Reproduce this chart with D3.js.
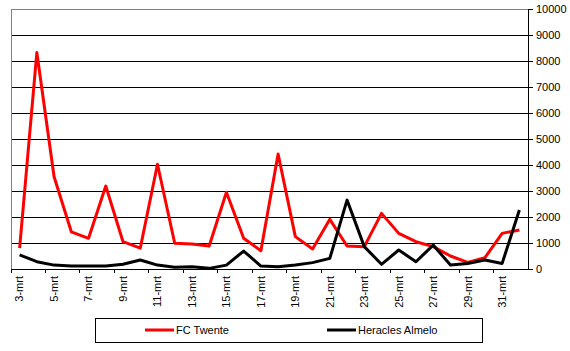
<!DOCTYPE html>
<html>
<head>
<meta charset="utf-8">
<script src="https://cdn.jsdelivr.net/npm/d3@7"></script>
<style>
  body { margin: 0; background: #fff; }
  text { font-family: "Liberation Sans", Arial, sans-serif; font-size: 11px; fill: #000; }
</style>
</head>
<body>
<svg width="570" height="351"></svg>
<script>
const days = ["3-mrt", "4-mrt", "5-mrt", "6-mrt", "7-mrt", "8-mrt", "9-mrt", "10-mrt", "11-mrt", "12-mrt",
    "13-mrt", "14-mrt", "15-mrt", "16-mrt", "17-mrt", "18-mrt", "19-mrt", "20-mrt", "21-mrt", "22-mrt",
    "23-mrt", "24-mrt", "25-mrt", "26-mrt", "27-mrt", "28-mrt", "29-mrt", "30-mrt", "31-mrt", "1-apr"];
const twente = [800, 8330, 3550, 1430, 1180, 3190, 1050, 800, 4030, 990,
    960, 885, 2950, 1180, 705, 4420, 1245, 770, 1910, 885,
    860, 2140, 1370, 1050, 860, 500, 255, 435, 1370, 1500];
const heracles = [540, 280, 150, 115, 115, 115, 180, 345, 150, 65,
    90, 25, 150, 690, 115, 90, 150, 245, 410, 2650,
    860, 180, 730, 280, 920, 150, 215, 345, 215, 2270];
const yTicks = d3.range(0, 10001, 1000);
const series = [
    { name: "FC Twente", values: twente, color: "#ff0000" },
    { name: "Heracles Almelo", values: heracles, color: "#000000" }
];

const svg = d3.select("svg");
const plotLeft = 11, plotRight = 528, plotTop = 9, plotBottom = 269;

const x = d3.scaleBand().domain(days).range([plotLeft, plotRight]);
const y = d3.scaleLinear().domain([0, 10000]).range([plotBottom, plotTop]);

// gridlines
svg.selectAll(".grid")
    .data(yTicks.filter(d => d > 0 && d < 10000))
    .enter().append("line")
    .attr("x1", plotLeft).attr("x2", plotRight)
    .attr("y1", d => y(d)).attr("y2", d => y(d))
    .attr("stroke", "#000").attr("stroke-width", 1)
    .attr("shape-rendering", "crispEdges");

// plot border (top + left grey)
svg.append("path")
    .attr("d", `M${plotLeft},${y(0)}V${y(10000)}H${plotRight}`)
    .attr("fill", "none").attr("stroke", "#808080")
    .attr("shape-rendering", "crispEdges");

// bottom axis line
svg.append("line")
    .attr("x1", plotLeft).attr("x2", plotRight)
    .attr("y1", y(0)).attr("y2", y(0))
    .attr("stroke", "#000").attr("shape-rendering", "crispEdges");

// x ticks every 2 days at band boundaries
const labelled = days.filter((d, i) => i % 2 === 0);
svg.selectAll(".xtick")
    .data(labelled)
    .enter().append("line")
    .attr("x1", d => x(d)).attr("x2", d => x(d))
    .attr("y1", y(0)).attr("y2", y(0) + 4)
    .attr("stroke", "#000").attr("shape-rendering", "crispEdges");

svg.selectAll(".xlabel")
    .data(labelled)
    .enter().append("text")
    .attr("transform", d => `translate(${x(d) + x.bandwidth() / 2},276) rotate(-90)`)
    .attr("text-anchor", "end")
    .attr("dy", "0.35em")
    .text(d => d);

// right y axis
const yAxis = svg.append("g")
    .attr("transform", `translate(${plotRight},0)`)
    .call(d3.axisRight(y).tickValues(yTicks).tickSize(5).tickPadding(3).tickFormat(d3.format("d")));
yAxis.select(".domain").attr("stroke", "#000").attr("shape-rendering", "crispEdges");
yAxis.selectAll(".tick line").attr("stroke", "#000").attr("shape-rendering", "crispEdges");
yAxis.selectAll("text")
    .style("font-family", "'Liberation Sans', Arial, sans-serif")
    .style("font-size", "11px")
    .attr("fill", "#000");

// lines
const line = d3.line()
    .x((d, i) => x(days[i]) + x.bandwidth() / 2)
    .y(d => y(d));

svg.selectAll(".series")
    .data(series)
    .enter().append("path")
    .attr("d", d => line(d.values))
    .attr("fill", "none")
    .attr("stroke", d => d.color)
    .attr("stroke-width", 3)
    .attr("stroke-linejoin", "round");

// legend
const legend = svg.append("g");
legend.append("rect")
    .attr("x", 95.5).attr("y", 318.5)
    .attr("width", 387).attr("height", 24)
    .attr("fill", "#fff").attr("stroke", "#000");

const legendX = [145, 327];
series.forEach((s, i) => {
    legend.append("line")
        .attr("x1", legendX[i]).attr("x2", legendX[i] + 29)
        .attr("y1", 330).attr("y2", 330)
        .attr("stroke", s.color).attr("stroke-width", 3);
    legend.append("text")
        .attr("x", legendX[i] + 31)
        .attr("y", 330)
        .attr("dy", "0.35em")
        .text(s.name);
});
</script>
</body>
</html>
